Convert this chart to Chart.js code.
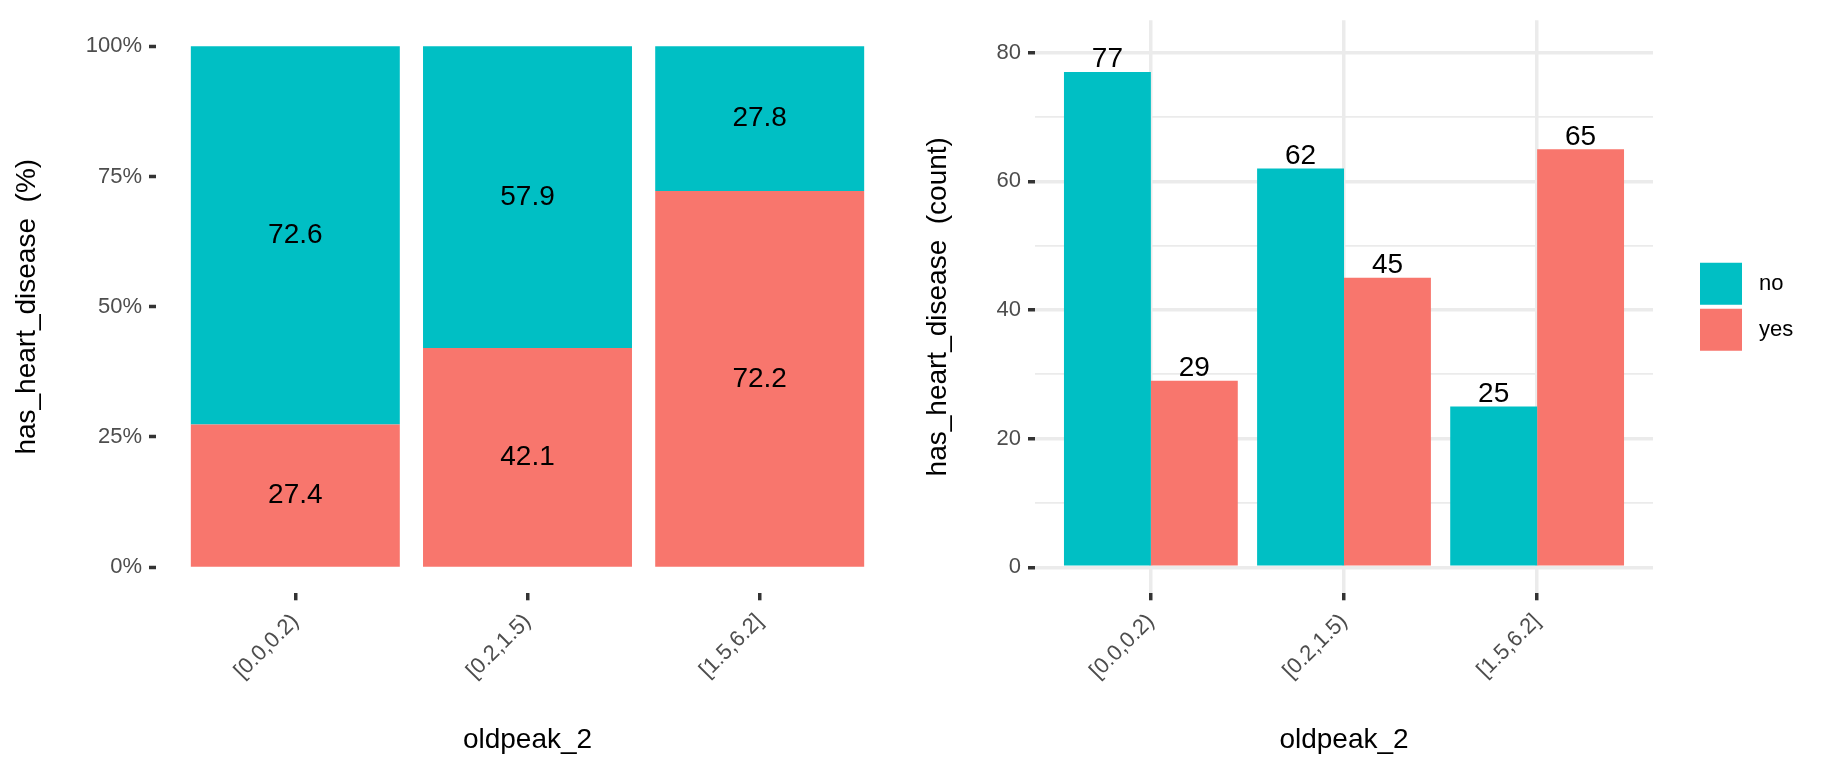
<!DOCTYPE html>
<html>
<head>
<meta charset="utf-8">
<script src="https://cdn.jsdelivr.net/npm/chart.js@4.4.1/dist/chart.umd.min.js"></script>
<style>
  html, body { margin: 0; padding: 0; background: #fff; }
  #wrap { position: relative; width: 1824px; height: 768px; }
  canvas { position: absolute; top: 0; }
  #pctChart { left: 0; }
  #countChart { left: 912px; }
</style>
</head>
<body>
<div id="wrap">
  <canvas id="pctChart" width="912" height="768"></canvas>
  <canvas id="countChart" width="912" height="768"></canvas>
</div>
<script>
// values
const categories = ['[0.0,0.2)', '[0.2,1.5)', '[1.5,6.2]'];
const noCounts = [77, 62, 25];
const yesCounts = [29, 45, 65];
const noPct = [72.6, 57.9, 27.8];
const yesPct = [27.4, 42.1, 72.2];
const pctTicks = [0, 25, 50, 75, 100];
const countTicks = [0, 10, 20, 30, 40, 50, 60, 70, 80];

const TEAL = '#00BFC4';
const SALMON = '#F8766D';
const FONT = "'Liberation Sans', Arial, Helvetica, sans-serif";

Chart.defaults.font.family = FONT;
Chart.defaults.animation = false;

const catX = categories.map((c, i) => i + 1);
const toPoints = arr => arr.map((v, i) => ({ x: catX[i], y: v }));

// shared x axis: ggplot discrete scale expands 0.6 units each side
function xAxis(showGrid, stacked) {
  return {
    type: 'linear',
    min: 0.4,
    max: 3.6,
    offset: false,
    stacked: stacked,
    afterBuildTicks: s => { s.ticks = catX.map(v => ({ value: v })); },
    afterFit: s => { s.height = 768 - 593.3; },
    border: { display: false },
    grid: {
      display: true,
      offset: false,
      drawOnChartArea: showGrid,
      color: '#EBEBEB',
      lineWidth: 3.5,
      tickColor: '#333333',
      tickWidth: 3.5,
      tickLength: 7
    },
    ticks: {
      autoSkip: false,
      minRotation: 45,
      maxRotation: 45,
      padding: 3,
      color: '#4D4D4D',
      // taller line box pushes the rotated labels a bit down-right, like ggplot
      font: { size: 22, lineHeight: 1.9 },
      callback: (v, i) => categories[i]
    },
    title: {
      display: true,
      text: 'oldpeak_2',
      color: '#000',
      font: { size: 28 },
      padding: { top: 0, bottom: 11 }
    }
  };
}

// value labels drawn at the bar elements
const barLabels = {
  id: 'barLabels',
  afterDatasetsDraw(chart, args, opts) {
    const ctx = chart.ctx;
    ctx.save();
    ctx.fillStyle = '#000';
    ctx.font = '28px ' + FONT;
    ctx.textAlign = 'center';
    chart.data.datasets.forEach((ds, di) => {
      chart.getDatasetMeta(di).data.forEach((el, i) => {
        const v = ds.data[i].y;
        if (opts.mode === 'middle') {
          ctx.textBaseline = 'middle';
          ctx.fillText(v.toFixed(1), el.x, (el.y + el.base) / 2);
        } else {
          ctx.textBaseline = 'alphabetic';
          ctx.fillText(String(v), el.x, el.y - 4.5);
        }
      });
    });
    ctx.restore();
  }
};

// ggplot-like legend to the right of the panel
const sideLegend = {
  id: 'sideLegend',
  afterDraw(chart) {
    const ctx = chart.ctx;
    const a = chart.chartArea;
    const key = 42, gap = 4;
    const n = chart.data.datasets.length;
    const x0 = a.right + 47;
    let y = (a.top + a.bottom) / 2 - (n * key + (n - 1) * gap) / 2;
    ctx.save();
    ctx.font = '22px ' + FONT;
    ctx.textBaseline = 'middle';
    ctx.textAlign = 'left';
    chart.data.datasets.forEach(ds => {
      ctx.fillStyle = ds.backgroundColor;
      ctx.fillRect(x0, y, key, key);
      ctx.fillStyle = '#000';
      ctx.fillText(ds.label, x0 + key + 17, y + key / 2);
      y += key + gap;
    });
    ctx.restore();
  }
};

new Chart(document.getElementById('pctChart'), {
  type: 'bar',
  data: {
    datasets: [
      { label: 'yes', data: toPoints(yesPct), backgroundColor: SALMON },
      { label: 'no', data: toPoints(noPct), backgroundColor: TEAL }
    ]
  },
  options: {
    responsive: false,
    events: [],
    categoryPercentage: 0.9,
    barPercentage: 1,
    layout: { padding: { left: 0, top: 14.7, right: 13, bottom: 0 } },
    plugins: { legend: { display: false }, tooltip: { enabled: false }, barLabels: { mode: 'middle' } },
    scales: {
      x: xAxis(false, true),
      y: {
        type: 'linear',
        min: -5,
        max: 105,
        stacked: true,
        afterBuildTicks: s => { s.ticks = pctTicks.map(v => ({ value: v })); },
        afterFit: s => { s.width = 156; },
        border: { display: false },
        grid: {
          drawOnChartArea: false,
          tickColor: '#333333',
          tickWidth: 3.5,
          tickLength: 7
        },
        ticks: {
          padding: 7,
          color: '#4D4D4D',
          font: { size: 22 },
          callback: v => v + '%'
        },
        title: {
          display: true,
          text: 'has_heart_disease  (%)',
          color: '#000',
          font: { size: 28 },
          padding: { top: 10.2, bottom: 0 }
        }
      }
    }
  },
  plugins: [barLabels]
});

new Chart(document.getElementById('countChart'), {
  type: 'bar',
  data: {
    datasets: [
      { label: 'no', data: toPoints(noCounts), backgroundColor: TEAL },
      { label: 'yes', data: toPoints(yesCounts), backgroundColor: SALMON }
    ]
  },
  options: {
    responsive: false,
    events: [],
    categoryPercentage: 0.9,
    barPercentage: 1,
    layout: { padding: { left: 0, top: 15, right: 171, bottom: 0 } },
    plugins: { legend: { display: false }, tooltip: { enabled: false }, barLabels: { mode: 'top' } },
    scales: {
      x: xAxis(true, false),
      y: {
        type: 'linear',
        min: -4.05,
        max: 85.05,
        afterBuildTicks: s => { s.ticks = countTicks.map(v => ({ value: v })); },
        afterFit: s => { s.width = 123; },
        border: { display: false },
        grid: {
          color: '#EBEBEB',
          lineWidth: c => (c.tick && c.tick.value % 20 === 0 ? 3.5 : 1.75),
          tickColor: c => (c.tick && c.tick.value % 20 === 0 ? '#333333' : 'rgba(0,0,0,0)'),
          tickWidth: 3.5,
          tickLength: 7
        },
        ticks: {
          padding: 7,
          color: '#4D4D4D',
          font: { size: 22 },
          callback: v => (v % 20 === 0 ? String(v) : '')
        },
        title: {
          display: true,
          text: 'has_heart_disease  (count)',
          color: '#000',
          font: { size: 28 },
          padding: { top: 9.7, bottom: 0 }
        }
      }
    }
  },
  plugins: [barLabels, sideLegend]
});
</script>
</body>
</html>
